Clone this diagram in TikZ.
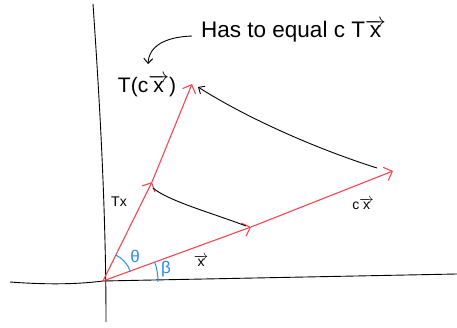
\documentclass[tikz,border=0pt]{standalone}
\usepackage{fontspec}
\setmainfont{Liberation Sans}
\usetikzlibrary{arrows.meta}
\definecolor{vred}{RGB}{245,70,80}
\definecolor{ablue}{RGB}{40,140,235}
\begin{document}
\begin{tikzpicture}[x=1pt,y=-1pt,
  axis/.style={black,line width=0.9pt},
  vecline/.style={vred,line width=1.1pt,-{Straight Barb[length=7pt,width=14pt,line width=1.1pt]}},
  mapline/.style={black,line width=0.9pt},
  anglearc/.style={ablue,line width=1pt},
  lbl/.style={inner sep=0pt,font=\fontsize{14}{14}\selectfont},
  greek/.style={inner sep=0pt,text=ablue,font=\fontsize{17}{17}\selectfont},
  biglbl/.style={inner sep=0pt,font=\fontsize{21}{21}\selectfont},
  titlelbl/.style={inner sep=0pt,font=\fontsize{22.5}{22.5}\selectfont}]
\useasboundingbox (0,0) rectangle (457,328);
% axes
\coordinate (vtop) at (93,4);
\coordinate (vbot) at (106,322);
\coordinate (hl) at (10,282);
\coordinate (hr) at (457,274);
\draw[axis] (vtop) .. controls (101,120) and (106,220) .. (vbot);
\draw[axis] (hl) .. controls (50,285) and (80,284) .. (103,281) -- (hr);
% vectors
\coordinate (O) at (103,281);
\coordinate (tx) at (152,182);
\coordinate (tcx) at (192,84);
\coordinate (x) at (251,227);
\coordinate (cx) at (393,171);
\draw[vecline] (O) -- (tx);
\draw[vecline] (tx) -- (tcx);
\draw[vecline] (O) -- (x);
\draw[vecline] (x) -- (cx);
% mapping curves
\coordinate (m1s) at (153,188);
\coordinate (m1e) at (246,226);
\draw[mapline] (m1s) .. controls (168,201) and (215,214) .. (m1e);
\coordinate (m2s) at (377,168);
\coordinate (m2e) at (198,87);
\draw[mapline,-{Straight Barb[length=5pt,width=9pt,line width=0.9pt]}] (m2s) .. controls (320,150) and (250,120) .. (m2e);
% callout
\coordinate (cs) at (192,36);
\coordinate (ce) at (148,64);
\draw[mapline,-{Straight Barb[length=5pt,width=9pt,line width=0.9pt]}] (cs) .. controls (165,37) and (149,46) .. (ce);
% angle arcs
\draw[anglearc] (O) ++(-64:29) arc[start angle=-64,end angle=-19,radius=29];
\draw[anglearc] (O) ++(-20:55) arc[start angle=-20,end angle=1,radius=55];
% labels
\node[titlelbl,anchor=west] (htext) at (201,31) {Has to equal c T$\overrightarrow{\mbox{x}}$};
\node[biglbl] (tcxl) at (147,86) {T(c$\overrightarrow{\mbox{x}}$)};
\node[lbl] (txl) at (119,202) {Tx};
\node[lbl] (cxl) at (363,204) {c$\overrightarrow{\mbox{x}}$};
\node[lbl] (xl) at (201,261) {$\overrightarrow{\mbox{x}}$};
\node[greek] (thl) at (135,256) {θ};
\node[greek] (bl) at (166,269) {β};
\end{tikzpicture}
\end{document}
